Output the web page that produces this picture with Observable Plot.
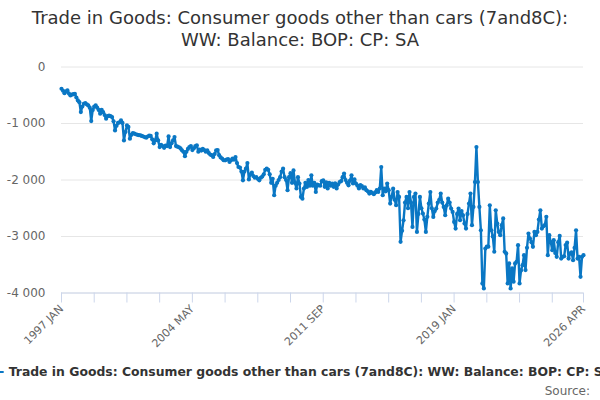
<!DOCTYPE html>
<html>
<head>
<meta charset="utf-8">
<script src="https://cdn.jsdelivr.net/npm/d3@7"></script>
<script src="https://cdn.jsdelivr.net/npm/@observablehq/plot@0.6"></script>
<style>
  html, body { margin: 0; padding: 0; background: #fff; }
  body { width: 600px; height: 400px; overflow: hidden; font-family: "DejaVu Sans", sans-serif; position: relative; }
  #title { height: 56px; padding-top: 7px; box-sizing: border-box; text-align: center; font-size: 18px; line-height: 22px; color: #333; }
  #legend { position: absolute; left: 50%; top: 364px; transform: translateX(-50%); white-space: nowrap; font-size: 12.4px; font-weight: bold; color: #333; }
  #legend .sw { display: inline-block; width: 16px; height: 2px; background: #0a77c4; vertical-align: middle; margin-right: 5px; position: relative; top: -1px; }
  #source { position: absolute; right: 10px; top: 384px; font-size: 12px; color: #666; }
  #chart { position: absolute; top: 56px; left: 0; }
</style>
</head>
<body>
<div id="title">Trade in Goods: Consumer goods other than cars (7and8C):<br>WW: Balance: BOP: CP: SA</div>
<div id="chart"></div>
<div id="legend"><span class="sw"></span>Trade in Goods: Consumer goods other than cars (7and8C): WW: Balance: BOP: CP: SA</div>
<div id="source">Source:</div>
<script>
const seriesName = "Trade in Goods: Consumer goods other than cars (7and8C): WW: Balance: BOP: CP: SA";
const startYear = 1997;
const monthNames = ["JAN","FEB","MAR","APR","MAY","JUN","JUL","AUG","SEP","OCT","NOV","DEC"];
const values = [
  -385, -420, -463, -430, -415, -470, -503, -490, -480, -475, -540, -592,
  -622, -798, -700, -650, -640, -660, -680, -720, -957, -760, -700, -680,
  -720, -760, -827, -757, -800, -850, -915, -870, -860, -870, -887, -960,
  -1122, -1040, -990, -980, -945, -990, -1299, -1150, -1034, -1060, -1270, -1200,
  -1169, -1180, -1190, -1200, -1205, -1210, -1220, -1230, -1240, -1251, -1230, -1215,
  -1220, -1280, -1351, -1300, -1180, -1300, -1417, -1380, -1400, -1430, -1390, -1400,
  -1228, -1417, -1350, -1300, -1240, -1400, -1410, -1420, -1440, -1475, -1500, -1580,
  -1500, -1450, -1417, -1400, -1470, -1440, -1400, -1387, -1500, -1460, -1480, -1450,
  -1470, -1500, -1475, -1520, -1550, -1560, -1593, -1540, -1475, -1470, -1560, -1600,
  -1620, -1650, -1652, -1640, -1630, -1680, -1650, -1620, -1640, -1593, -1700, -1770,
  -1780, -1850, -2005, -1850, -1800, -1700, -1990, -1900, -1870, -1930, -1960, -1950,
  -1980, -2005, -1960, -1940, -1900, -1820, -1800, -1820, -1900, -2050, -1980, -2270,
  -2100, -2050, -2000, -1950, -1850, -1800, -1950, -2000, -2180, -1950, -1880, -2050,
  -1830, -2050, -2150, -1950, -2064, -2300, -2330, -2150, -2050, -2123, -2000, -2100,
  -1917, -2100, -2050, -2212, -2080, -2094, -2100, -2020, -2005, -2120, -2040, -2150,
  -2050, -2100, -2064, -2120, -2060, -2150, -2080, -2035, -2020, -1950, -1887, -2000,
  -2050, -2094, -2010, -1917, -2060, -1990, -2064, -2100, -2150, -2090, -2110, -2150,
  -2130, -2180, -2200, -2240, -2210, -2230, -2250, -2220, -2180, -2212, -2150, -1770,
  -2270, -2150, -2200, -2064, -2180, -2417, -2300, -2153, -2350, -2447, -2212, -2300,
  -3095, -2900, -2712, -2400, -2300, -2500, -2212, -2400, -2830, -2300, -2240, -2919,
  -2600, -2300, -2500, -2594, -2700, -2919, -2650, -2417, -2212, -2500, -2654, -2550,
  -2505, -2400, -2350, -2240, -2400, -2477, -2624, -2450, -2330, -2400, -2505, -2565,
  -2742, -2860, -2600, -2505, -2712, -2550, -2624, -2770, -2860, -2600, -2417, -2240,
  -2800, -2477, -2035, -1417, -2035, -2477, -2889, -3830, -3919, -3212, -3180, -3180,
  -2447, -2889, -3000, -3270, -2535, -2770, -2919, -2977, -2800, -2680, -3270, -3300,
  -3830, -3477, -3919, -3565, -3800, -3477, -3448, -3154, -3830, -3600, -3507, -3330,
  -3595, -3200, -2947, -3035, -3100, -3183, -2919, -2977, -2919, -2700, -2535, -2860,
  -2820, -2800, -2650, -3330, -2977, -3100, -3242, -3065, -3290, -3360, -3100, -2990,
  -3390, -3360, -3350, -3150, -3110, -3390, -3300, -3280, -3420, -3200, -2889, -3390,
  -3360, -3713, -3360, -3330
];
const yTicks = [0, -1000, -2000, -3000, -4000];
const xTickLabels = ["1997 JAN", "2004 MAY", "2011 SEP", "2019 JAN", "2026 APR"];

const labelOf = i => `${startYear + Math.floor(i / 12)} ${monthNames[i % 12]}`;
const data = values.map((v, i) => ({i, label: labelOf(i), value: v}));
const last = values.length - 1;
const xTicks = d3.range(0, last, 22).concat([last]);
const fmtY = d => (d < 0 ? "-" : "") + d3.format(",")(Math.abs(d)).replace(/,/g, " ");
const color = "#0a77c4";

const chart = Plot.plot({
  width: 600,
  height: 300,
  marginLeft: 61,
  marginRight: 17,
  marginTop: 10.5,
  marginBottom: 63.5,
  style: {fontFamily: "DejaVu Sans, sans-serif", fontSize: "11px", background: "#fff"},
  x: {type: "linear", domain: [0, last]},
  y: {domain: [-4000, 0]},
  marks: [
    Plot.gridY(yTicks, {stroke: "#e6e6e6", strokeOpacity: 1}),
    Plot.axisY(yTicks, {tickSize: 0, tickPadding: 16, tickFormat: fmtY, fill: "#666", fontSize: 12, label: null}),
    Plot.ruleY([-4000], {stroke: "#ccd6eb"}),
    Plot.axisX(xTicks, {tickSize: 10, stroke: "#ccd6eb", strokeOpacity: 1, fill: "#666", fontSize: 11, tickRotate: -45, tickPadding: 4,
      tickFormat: i => { const l = labelOf(i); return xTickLabels.includes(l) ? l : ""; }, label: null}),
    Plot.line(data, {x: "i", y: "value", stroke: color, strokeWidth: 2.4}),
    Plot.dot(data, {x: "i", y: "value", fill: color, r: 2.1})
  ]
});
document.getElementById("chart").appendChild(chart);
</script>
</body>
</html>
